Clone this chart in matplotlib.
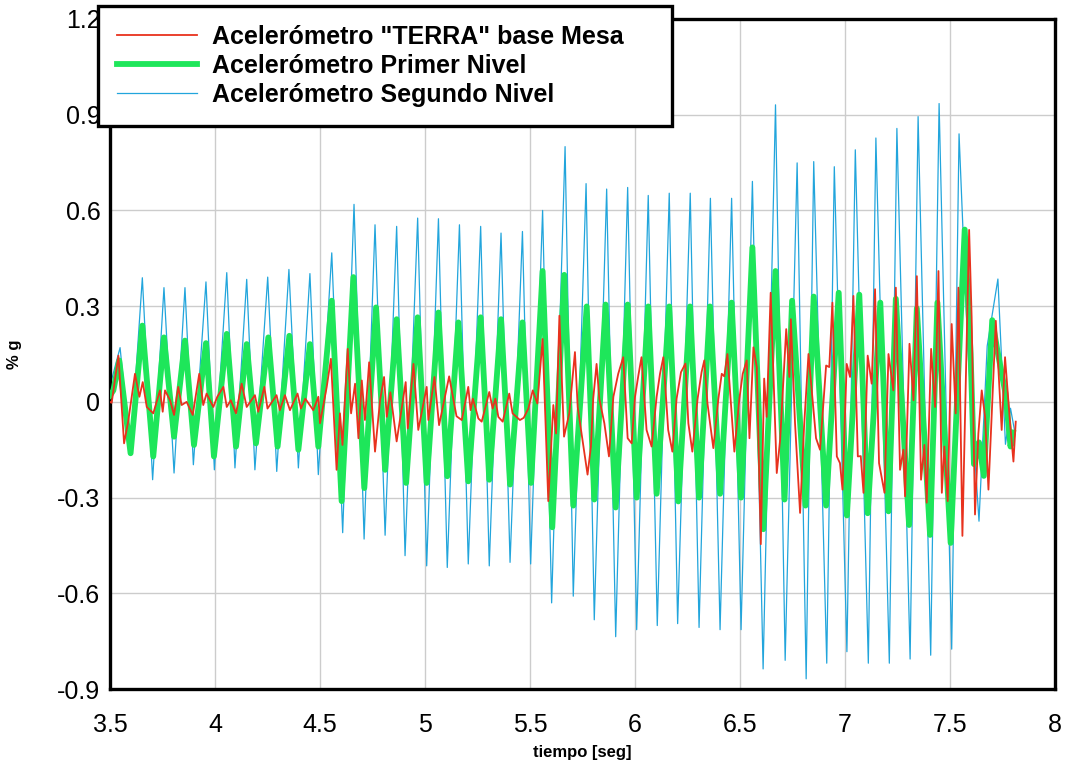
import matplotlib
matplotlib.use("Agg")
import matplotlib.pyplot as plt

# extrema (time in s, value in % g)
t_blue = [3.50, 3.548, 3.598, 3.654, 3.703, 3.757, 3.805, 3.857, 3.897, 3.957,
          3.997, 4.056, 4.095, 4.151, 4.19, 4.251, 4.294, 4.352, 4.397, 4.452,
          4.492, 4.556, 4.608, 4.662, 4.71, 4.762, 4.81, 4.865, 4.905, 4.965,
          5.008, 5.064, 5.106, 5.164, 5.206, 5.265, 5.306, 5.362, 5.405, 5.464,
          5.503, 5.56, 5.603, 5.667, 5.706, 5.767, 5.806, 5.865, 5.908, 5.965,
          6.008, 6.063, 6.106, 6.163, 6.203, 6.263, 6.305, 6.359, 6.405, 6.46,
          6.505, 6.559, 6.61, 6.669, 6.715, 6.772, 6.815, 6.851, 6.913, 6.949,
          7.009, 7.049, 7.111, 7.147, 7.211, 7.247, 7.31, 7.348, 7.408, 7.448,
          7.508, 7.543, 7.585, 7.638, 7.677, 7.728, 7.764, 7.788, 7.81]
v_blue = [0.05, 0.17, -0.16, 0.389, -0.244, 0.358, -0.223, 0.358, -0.197, 0.376,
          -0.213, 0.405, -0.207, 0.384, -0.213, 0.391, -0.218, 0.415, -0.207, 0.402,
          -0.228, 0.467, -0.41, 0.619, -0.43, 0.555, -0.418, 0.55, -0.482, 0.576,
          -0.514, 0.574, -0.519, 0.555, -0.508, 0.55, -0.514, 0.529, -0.503, 0.534,
          -0.508, 0.60, -0.63, 0.80, -0.609, 0.684, -0.683, 0.667, -0.736, 0.672,
          -0.714, 0.647, -0.701, 0.654, -0.695, 0.654, -0.707, 0.638, -0.714, 0.638,
          -0.714, 0.691, -0.837, 0.931, -0.81, 0.749, -0.868, 0.753, -0.819, 0.737,
          -0.783, 0.79, -0.819, 0.827, -0.819, 0.857, -0.806, 0.894, -0.794, 0.935,
          -0.775, 0.84, 0.163, -0.374, 0.175, 0.385, -0.133, -0.02, -0.10]

t_green = [3.50, 3.516, 3.544, 3.598, 3.654, 3.706, 3.757, 3.805, 3.857, 3.90,
           3.957, 3.995, 4.056, 4.10, 4.151, 4.195, 4.254, 4.298, 4.354, 4.397,
           4.452, 4.492, 4.556, 4.603, 4.659, 4.711, 4.767, 4.81, 4.865, 4.91,
           4.965, 5.008, 5.064, 5.106, 5.159, 5.206, 5.265, 5.306, 5.362, 5.405,
           5.464, 5.505, 5.56, 5.606, 5.663, 5.706, 5.77, 5.806, 5.86, 5.908,
           5.965, 6.008, 6.063, 6.103, 6.163, 6.206, 6.262, 6.305, 6.357, 6.405,
           6.46, 6.505, 6.559, 6.611, 6.669, 6.712, 6.748, 6.812, 6.851, 6.91,
           6.97, 7.009, 7.068, 7.108, 7.168, 7.207, 7.242, 7.305, 7.342, 7.405,
           7.44, 7.503, 7.57, 7.598, 7.614, 7.638, 7.661, 7.701, 7.725, 7.764,
           7.788, 7.80]
v_green = [0.02, 0.036, 0.13, -0.161, 0.239, -0.171, 0.202, -0.109, 0.192, -0.135,
           0.184, -0.171, 0.213, -0.14, 0.181, -0.13, 0.202, -0.14, 0.207, -0.15,
           0.181, -0.14, 0.317, -0.311, 0.391, -0.27, 0.296, -0.213, 0.259, -0.254,
           0.265, -0.254, 0.28, -0.233, 0.249, -0.249, 0.265, -0.244, 0.259, -0.259,
           0.249, -0.254, 0.41, -0.393, 0.398, -0.325, 0.299, -0.306, 0.305, -0.331,
           0.305, -0.30, 0.299, -0.288, 0.299, -0.312, 0.299, -0.30, 0.299, -0.288,
           0.311, -0.30, 0.484, -0.399, 0.41, -0.306, 0.317, -0.325, 0.33, -0.325,
           0.342, -0.356, 0.336, -0.349, 0.311, -0.343, 0.323, -0.386, 0.293, -0.417,
           0.311, -0.442, 0.54, 0.151, -0.195, -0.127, -0.232, 0.256, 0.163, 0.027,
           -0.14, -0.096]

t_red = [3.50, 3.508, 3.54, 3.567, 3.587, 3.619, 3.64, 3.656, 3.675, 3.706,
         3.738, 3.751, 3.762, 3.786, 3.805, 3.825, 3.841, 3.865, 3.894, 3.925,
         3.944, 3.96, 3.992, 4.011, 4.04, 4.056, 4.075, 4.10, 4.127, 4.151,
         4.19, 4.206, 4.235, 4.25, 4.293, 4.309, 4.333, 4.357, 4.393, 4.409,
         4.43, 4.468, 4.492, 4.50, 4.532, 4.552, 4.579, 4.595, 4.607, 4.632,
         4.648, 4.667, 4.683, 4.699, 4.714, 4.734, 4.762, 4.786, 4.805, 4.818,
         4.835, 4.865, 4.908, 4.918, 4.945, 4.968, 5.008, 5.016, 5.045, 5.067,
         5.115, 5.15, 5.175, 5.206, 5.217, 5.228, 5.254, 5.27, 5.306, 5.322,
         5.335, 5.349, 5.37, 5.401, 5.417, 5.452, 5.47, 5.492, 5.513, 5.535,
         5.56, 5.587, 5.611, 5.624, 5.64, 5.662, 5.687, 5.714, 5.727, 5.774,
         5.79, 5.801, 5.817, 5.83, 5.854, 5.876, 5.897, 5.92, 5.944, 5.965,
         5.984, 6.0, 6.016, 6.031, 6.055, 6.079, 6.103, 6.119, 6.135, 6.158,
         6.178, 6.198, 6.219, 6.24, 6.254, 6.273, 6.298, 6.317, 6.33, 6.345,
         6.373, 6.397, 6.413, 6.425, 6.44, 6.473, 6.497, 6.513, 6.532, 6.545,
         6.564, 6.58, 6.599, 6.615, 6.627, 6.646, 6.675, 6.691, 6.72, 6.735,
         6.742, 6.762, 6.786, 6.805, 6.826, 6.862, 6.881, 6.91, 6.925, 6.94,
         6.961, 6.976, 6.988, 7.008, 7.024, 7.04, 7.061, 7.075, 7.088, 7.108,
         7.127, 7.143, 7.162, 7.188, 7.207, 7.23, 7.242, 7.262, 7.278, 7.286,
         7.307, 7.326, 7.342, 7.362, 7.378, 7.389, 7.41, 7.429, 7.445, 7.461,
         7.473, 7.489, 7.508, 7.527, 7.54, 7.559, 7.591, 7.603, 7.619, 7.635,
         7.651, 7.667, 7.683, 7.718, 7.746, 7.762, 7.786, 7.802, 7.813]
v_red = [0.0, -0.003, 0.145, -0.13, -0.06, 0.088, 0.016, 0.062, -0.016, -0.036,
         0.036, -0.031, 0.036, 0.005, -0.041, 0.047, -0.01, 0.0, -0.041, 0.088,
         -0.01, 0.026, -0.016, 0.016, 0.047, -0.016, 0.005, -0.036, 0.057, -0.016,
         0.021, -0.031, 0.047, -0.021, 0.021, -0.026, 0.021, -0.026, 0.026, -0.021,
         0.01, -0.026, 0.016, -0.067, 0.047, 0.135, -0.213, -0.036, -0.135, 0.166,
         -0.036, 0.057, -0.114, 0.067, -0.057, 0.124, -0.156, 0.005, 0.078, -0.047,
         0.03, -0.124, 0.062, -0.083, 0.119, -0.088, 0.047, -0.057, 0.078, -0.073,
         0.08, -0.045, -0.057, 0.047, -0.026, 0.01, -0.052, -0.062, 0.031, -0.021,
         0.01, -0.047, -0.062, 0.026, -0.036, -0.057, -0.05, -0.021, 0.036, -0.005,
         0.197, -0.311, -0.01, -0.099, 0.27, -0.109, -0.036, 0.156, -0.016, -0.228,
         -0.14, 0.01, 0.119, 0.01, -0.067, -0.171, 0.016, 0.088, 0.14, -0.114,
         -0.13, 0.016, 0.083, 0.14, -0.088, -0.14, 0.016, 0.088, 0.14, -0.088,
         -0.156, 0.01, 0.093, 0.12, -0.067, -0.156, 0.01, 0.093, 0.13, -0.005,
         -0.145, 0.01, 0.088, 0.08, 0.15, -0.156, 0.01, 0.088, 0.13, -0.114,
         0.171, 0.109, -0.446, 0.073, -0.047, 0.342, -0.223, -0.119, 0.228, 0.078,
         0.259, -0.067, -0.348, -0.078, 0.15, -0.114, -0.15, 0.114, 0.109, 0.311,
         -0.171, -0.192, -0.275, 0.119, 0.078, 0.332, -0.171, -0.17, -0.285, 0.145,
         0.057, 0.353, -0.192, -0.285, 0.15, 0.036, 0.358, -0.213, -0.15, -0.296,
         0.182, 0.005, 0.394, -0.244, -0.135, -0.316, 0.166, -0.016, 0.41, -0.285,
         -0.14, -0.311, 0.244, -0.036, 0.358, -0.42, 0.539, 0.265, -0.353, -0.099,
         0.036, -0.047, -0.275, 0.254, -0.088, 0.14, -0.067, -0.187, -0.062]

labels = ['Acelerómetro "TERRA" base Mesa', 'Acelerómetro Primer Nivel',
          'Acelerómetro Segundo Nivel']
x_ticks = [3.5, 4, 4.5, 5, 5.5, 6, 6.5, 7, 7.5, 8]
x_tick_labels = ['3.5', '4', '4.5', '5', '5.5', '6', '6.5', '7', '7.5', '8']
y_ticks = [-0.9, -0.6, -0.3, 0, 0.3, 0.6, 0.9, 1.2]
y_tick_labels = ['-0.9', '-0.6', '-0.3', '0', '0.3', '0.6', '0.9', '1.2']

plt.rcParams['font.family'] = ['Liberation Sans', 'DejaVu Sans']

fig = plt.figure(figsize=(10.7, 7.69), dpi=100)
ax = fig.add_axes([0.1028, 0.104, 0.8832, 0.8713])

lr, = ax.plot(t_red, v_red, color='#e8321e', lw=1.3, zorder=4)
lg, = ax.plot(t_green, v_green, color='#1ee65a', lw=4.2, zorder=3)
lb, = ax.plot(t_blue, v_blue, color='#22a5dc', lw=0.9, zorder=2)

ax.set_xlim(3.5, 8)
ax.set_ylim(-0.9, 1.2)
ax.set_xticks(x_ticks)
ax.set_xticklabels(x_tick_labels, fontsize=18)
ax.set_yticks(y_ticks)
ax.set_yticklabels(y_tick_labels, fontsize=18)
ax.tick_params(length=0)
ax.tick_params(axis='x', pad=17)
ax.tick_params(axis='y', pad=7)
ax.grid(True, color='#cccccc', lw=1.0)
ax.set_axisbelow(True)
for s in ax.spines.values():
    s.set_linewidth(2.4)
    s.set_color('black')

ax.set_xlabel('tiempo [seg]', fontsize=12, fontweight='bold')
ax.xaxis.set_label_coords(0.5, -0.083)
ax.set_ylabel('% g', fontsize=12, fontweight='bold')
ax.yaxis.set_label_coords(-0.093, 0.5)

leg = fig.legend([lr, lg, lb], labels, loc='upper left',
                 bbox_to_anchor=(98 / 1070, 1 - 125 / 769, 574 / 1070, 119 / 769),
                 mode='expand', borderaxespad=0,
                 fancybox=False, framealpha=1, edgecolor='black',
                 prop={'weight': 'bold', 'size': 18},
                 handlelength=3.2, labelspacing=0.2, borderpad=0.75,
                 handletextpad=0.6)
leg.get_frame().set_linewidth(2.4)
leg.set_zorder(10)

fig.savefig('out.png', dpi=100)
